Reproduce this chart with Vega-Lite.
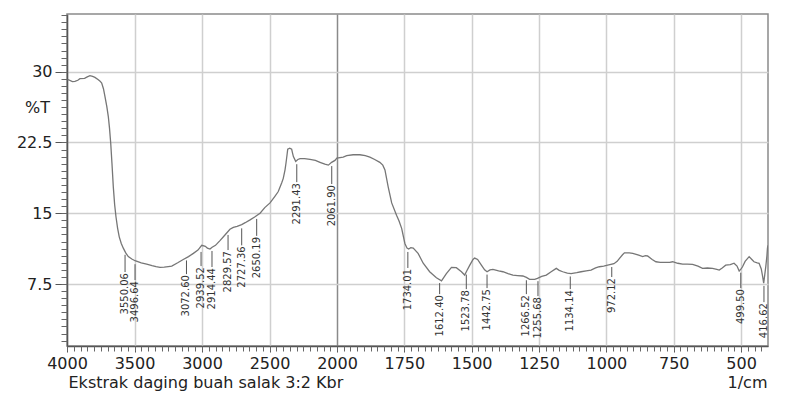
{
  "$schema": "https://vega.github.io/schema/vega-lite/v6.json",
  "width": 701,
  "height": 332,
  "autosize": {"type": "none"},
  "padding": {"left": 67, "top": 14, "right": 41, "bottom": 50},
  "background": "white",
  "config": {
    "view": {"stroke": "#8a8a8a", "strokeWidth": 1.5},
    "axis": {"labelFont": "DejaVu Sans", "titleFont": "DejaVu Sans", "labelColor": "#222", "titleColor": "#222", "titleFontWeight": "normal"},
    "text": {"font": "DejaVu Sans"}
  },
  "datasets": {
    "spectrum": [
      {"wn": 3996, "t": 29.1}, {"wn": 3990, "t": 29.15}, {"wn": 3960, "t": 28.95}, {"wn": 3941, "t": 28.97}, {"wn": 3920, "t": 29.1},
      {"wn": 3904, "t": 29.26}, {"wn": 3870, "t": 29.3}, {"wn": 3850, "t": 29.45}, {"wn": 3830, "t": 29.58}, {"wn": 3810, "t": 29.5},
      {"wn": 3793, "t": 29.4}, {"wn": 3768, "t": 29.15}, {"wn": 3755, "t": 29.0}, {"wn": 3743, "t": 28.8}, {"wn": 3730, "t": 28.2},
      {"wn": 3719, "t": 27.4}, {"wn": 3705, "t": 26.3}, {"wn": 3694, "t": 25.25}, {"wn": 3685, "t": 24.0}, {"wn": 3676, "t": 22.4},
      {"wn": 3667, "t": 20.3}, {"wn": 3657, "t": 17.8}, {"wn": 3647, "t": 15.9}, {"wn": 3637, "t": 14.6}, {"wn": 3625, "t": 13.4},
      {"wn": 3613, "t": 12.5}, {"wn": 3598, "t": 11.8}, {"wn": 3583, "t": 11.3}, {"wn": 3565, "t": 10.8}, {"wn": 3546, "t": 10.4},
      {"wn": 3520, "t": 10.15}, {"wn": 3496, "t": 9.97}, {"wn": 3450, "t": 9.75}, {"wn": 3410, "t": 9.6}, {"wn": 3370, "t": 9.45},
      {"wn": 3340, "t": 9.35}, {"wn": 3311, "t": 9.27}, {"wn": 3280, "t": 9.3}, {"wn": 3250, "t": 9.35}, {"wn": 3224, "t": 9.4},
      {"wn": 3180, "t": 9.75}, {"wn": 3139, "t": 10.1}, {"wn": 3100, "t": 10.4}, {"wn": 3064, "t": 10.75}, {"wn": 3030, "t": 11.1},
      {"wn": 3002, "t": 11.6}, {"wn": 2975, "t": 11.5}, {"wn": 2960, "t": 11.3}, {"wn": 2941, "t": 11.2}, {"wn": 2925, "t": 11.4},
      {"wn": 2900, "t": 11.6}, {"wn": 2867, "t": 12.1}, {"wn": 2830, "t": 12.7}, {"wn": 2793, "t": 13.3}, {"wn": 2768, "t": 13.5},
      {"wn": 2740, "t": 13.6}, {"wn": 2706, "t": 13.8}, {"wn": 2680, "t": 14.0}, {"wn": 2644, "t": 14.3}, {"wn": 2610, "t": 14.6},
      {"wn": 2570, "t": 15.0}, {"wn": 2535, "t": 15.6}, {"wn": 2496, "t": 16.1}, {"wn": 2460, "t": 16.8}, {"wn": 2435, "t": 17.3},
      {"wn": 2410, "t": 18.2}, {"wn": 2398, "t": 18.7}, {"wn": 2385, "t": 19.6}, {"wn": 2378, "t": 20.3}, {"wn": 2370, "t": 21.2},
      {"wn": 2365, "t": 21.8}, {"wn": 2350, "t": 21.9}, {"wn": 2336, "t": 21.8}, {"wn": 2328, "t": 21.3}, {"wn": 2323, "t": 21.0},
      {"wn": 2306, "t": 20.5}, {"wn": 2290, "t": 20.7}, {"wn": 2274, "t": 20.8}, {"wn": 2240, "t": 20.8}, {"wn": 2200, "t": 20.7},
      {"wn": 2160, "t": 20.6}, {"wn": 2126, "t": 20.4}, {"wn": 2090, "t": 20.2}, {"wn": 2064, "t": 20.1}, {"wn": 2040, "t": 20.4},
      {"wn": 2015, "t": 20.6}, {"wn": 2001, "t": 20.84}, {"wn": 1977, "t": 20.95}, {"wn": 1964, "t": 21.1}, {"wn": 1940, "t": 21.2},
      {"wn": 1915, "t": 21.2}, {"wn": 1895, "t": 21.1}, {"wn": 1878, "t": 20.94}, {"wn": 1860, "t": 20.7}, {"wn": 1841, "t": 20.4},
      {"wn": 1830, "t": 20.1}, {"wn": 1822, "t": 19.6}, {"wn": 1810, "t": 17.8}, {"wn": 1797, "t": 16.1}, {"wn": 1779, "t": 14.8},
      {"wn": 1770, "t": 14.2}, {"wn": 1760, "t": 13.4}, {"wn": 1748, "t": 11.8}, {"wn": 1740, "t": 11.3}, {"wn": 1734, "t": 11.2},
      {"wn": 1726, "t": 11.35}, {"wn": 1717, "t": 11.3}, {"wn": 1699, "t": 10.75}, {"wn": 1680, "t": 9.7}, {"wn": 1656, "t": 8.8},
      {"wn": 1631, "t": 8.16}, {"wn": 1612, "t": 7.84}, {"wn": 1594, "t": 8.6}, {"wn": 1575, "t": 9.27}, {"wn": 1557, "t": 9.23},
      {"wn": 1538, "t": 8.8}, {"wn": 1526, "t": 8.45}, {"wn": 1518, "t": 8.9}, {"wn": 1507, "t": 9.5}, {"wn": 1495, "t": 10.1},
      {"wn": 1489, "t": 10.25}, {"wn": 1478, "t": 10.1}, {"wn": 1464, "t": 9.5}, {"wn": 1452, "t": 9.0}, {"wn": 1443, "t": 8.8},
      {"wn": 1432, "t": 9.0}, {"wn": 1421, "t": 9.05}, {"wn": 1400, "t": 8.9}, {"wn": 1384, "t": 8.8}, {"wn": 1365, "t": 8.6},
      {"wn": 1347, "t": 8.45}, {"wn": 1330, "t": 8.4}, {"wn": 1310, "t": 8.35}, {"wn": 1297, "t": 8.2}, {"wn": 1285, "t": 8.0},
      {"wn": 1266, "t": 8.0}, {"wn": 1256, "t": 8.1}, {"wn": 1240, "t": 8.3}, {"wn": 1223, "t": 8.45}, {"wn": 1205, "t": 8.8},
      {"wn": 1186, "t": 9.16}, {"wn": 1175, "t": 8.95}, {"wn": 1162, "t": 8.8}, {"wn": 1145, "t": 8.65}, {"wn": 1131, "t": 8.6},
      {"wn": 1110, "t": 8.7}, {"wn": 1094, "t": 8.8}, {"wn": 1075, "t": 8.9}, {"wn": 1057, "t": 8.98}, {"wn": 1040, "t": 9.2},
      {"wn": 1026, "t": 9.33}, {"wn": 1010, "t": 9.4}, {"wn": 995, "t": 9.5}, {"wn": 972, "t": 9.65}, {"wn": 960, "t": 9.9},
      {"wn": 952, "t": 10.2}, {"wn": 940, "t": 10.6}, {"wn": 933, "t": 10.8}, {"wn": 915, "t": 10.8}, {"wn": 902, "t": 10.75},
      {"wn": 880, "t": 10.55}, {"wn": 865, "t": 10.4}, {"wn": 855, "t": 10.5}, {"wn": 847, "t": 10.47}, {"wn": 830, "t": 10.1},
      {"wn": 816, "t": 9.86}, {"wn": 800, "t": 9.8}, {"wn": 779, "t": 9.8}, {"wn": 765, "t": 9.8}, {"wn": 754, "t": 9.86},
      {"wn": 735, "t": 9.7}, {"wn": 717, "t": 9.6}, {"wn": 700, "t": 9.6}, {"wn": 680, "t": 9.58}, {"wn": 660, "t": 9.4},
      {"wn": 643, "t": 9.16}, {"wn": 625, "t": 9.2}, {"wn": 606, "t": 9.16}, {"wn": 590, "t": 9.05}, {"wn": 581, "t": 8.98},
      {"wn": 570, "t": 9.2}, {"wn": 557, "t": 9.5}, {"wn": 540, "t": 9.55}, {"wn": 526, "t": 9.7}, {"wn": 515, "t": 9.4},
      {"wn": 507, "t": 8.87}, {"wn": 500, "t": 9.1}, {"wn": 495, "t": 9.3}, {"wn": 485, "t": 9.9}, {"wn": 470, "t": 10.4},
      {"wn": 460, "t": 10.1}, {"wn": 452, "t": 9.86}, {"wn": 440, "t": 9.75}, {"wn": 433, "t": 9.7}, {"wn": 425, "t": 9.1},
      {"wn": 420, "t": 8.3}, {"wn": 416, "t": 7.6}, {"wn": 412, "t": 8.5}, {"wn": 408, "t": 9.4}, {"wn": 404, "t": 10.5},
      {"wn": 402, "t": 11.3}, {"wn": 400, "t": 11.6}
    ],
    "peaks": [
      {"label": "3550.06", "lx": 3570, "y1": 10.6, "y2": 8.77},
      {"label": "3496.64", "lx": 3496, "y1": 9.6, "y2": 7.92},
      {"label": "3072.60", "lx": 3115, "y1": 10.0, "y2": 8.55},
      {"label": "2939.52", "lx": 3007, "y1": 10.9, "y2": 9.4},
      {"label": "2914.44", "lx": 2926, "y1": 11.0, "y2": 9.3},
      {"label": "2829.57", "lx": 2807, "y1": 12.7, "y2": 11.1},
      {"label": "2727.36", "lx": 2706, "y1": 13.4, "y2": 11.6},
      {"label": "2650.19", "lx": 2595, "y1": 14.4, "y2": 12.6},
      {"label": "2291.43", "lx": 2298, "y1": 20.2, "y2": 18.3},
      {"label": "2061.90", "lx": 2039, "y1": 20.0, "y2": 18.1},
      {"label": "1734.01", "lx": 1737, "y1": 10.9, "y2": 9.2},
      {"label": "1612.40", "lx": 1619, "y1": 7.6, "y2": 6.43},
      {"label": "1523.78", "lx": 1520, "y1": 8.5, "y2": 6.96},
      {"label": "1442.75", "lx": 1443, "y1": 8.5, "y2": 7.07},
      {"label": "1266.52", "lx": 1297, "y1": 7.9, "y2": 6.43},
      {"label": "1255.68", "lx": 1254, "y1": 7.8, "y2": 6.22},
      {"label": "1134.14", "lx": 1134, "y1": 8.3, "y2": 6.96},
      {"label": "972.12", "lx": 980, "y1": 9.3, "y2": 8.24},
      {"label": "499.50", "lx": 501, "y1": 8.7, "y2": 7.07},
      {"label": "416.62", "lx": 415, "y1": 7.3, "y2": 5.58}
    ]
  },
  "layer": [
    {
      "data": {"name": "spectrum"},
      "mark": {"type": "line", "color": "#767676", "strokeWidth": 1.3, "clip": true},
      "encoding": {
        "x": {
          "field": "wn", "type": "quantitative",
          "scale": {"domain": [4000, 2000, 400], "range": [0, 270, 701], "nice": false, "zero": false},
          "axis": {
            "orient": "bottom",
            "values": [4000, 3500, 3000, 2500, 2000, 1750, 1500, 1250, 1000, 750, 500],
            "format": "d",
            "labelFontSize": 16, "labelPadding": 3, "labelFlush": false,
            "tickSize": 6, "tickColor": "#555",
            "domainColor": "#555", "domainWidth": 1.5,
            "grid": true, "gridWidth": 1.5,
            "gridColor": {"condition": {"test": "datum.value === 2000", "value": "#8a8a8a"}, "value": "#cfcfcf"},
            "title": "Ekstrak daging buah salak 3:2 Kbr",
            "titleFontSize": 16, "titleX": 1, "titleY": 36, "titleAlign": "left", "titleBaseline": "middle"
          }
        },
        "y": {
          "field": "t", "type": "quantitative",
          "scale": {"domain": [0.93, 36.12], "nice": false, "zero": false},
          "axis": {
            "orient": "left",
            "values": [7.5, 15, 22.5, 30],
            "labelExpr": "'' + datum.value",
            "labelFontSize": 16, "labelPadding": 3,
            "tickSize": 12, "tickColor": "#555",
            "domainColor": "#555", "domainWidth": 1.5,
            "grid": true, "gridWidth": 1.5, "gridColor": "#cfcfcf",
            "title": "%T", "titleAngle": 0, "titleFontSize": 16,
            "titleX": -30, "titleY": 93, "titleAlign": "center", "titleBaseline": "middle"
          }
        }
      }
    },
    {
      "data": {"name": "peaks"},
      "mark": {"type": "rule", "color": "#555", "strokeWidth": 1},
      "encoding": {
        "x": {
          "field": "lx", "type": "quantitative",
          "axis": {
            "orient": "bottom",
            "values": [4000, 3950, 3900, 3850, 3800, 3750, 3700, 3650, 3600, 3550, 3500, 3450, 3400, 3350, 3300, 3250, 3200, 3150, 3100, 3050, 3000, 2950, 2900, 2850, 2800, 2750, 2700, 2650, 2600, 2550, 2500, 2450, 2400, 2350, 2300, 2250, 2200, 2150, 2100, 2050, 2000, 1975, 1950, 1925, 1900, 1875, 1850, 1825, 1800, 1775, 1750, 1725, 1700, 1675, 1650, 1625, 1600, 1575, 1550, 1525, 1500, 1475, 1450, 1425, 1400, 1375, 1350, 1325, 1300, 1275, 1250, 1225, 1200, 1175, 1150, 1125, 1100, 1075, 1050, 1025, 1000, 975, 950, 925, 900, 875, 850, 825, 800, 775, 750, 725, 700, 675, 650, 625, 600, 575, 550, 525, 500, 475, 450, 425],
            "labels": false, "grid": false, "domain": false,
            "tickSize": 5, "tickColor": "#666",
            "title": "1/cm", "titleFontSize": 16, "titleX": 700, "titleY": 36, "titleAlign": "right", "titleBaseline": "middle"
          }
        },
        "y": {
          "field": "y1", "type": "quantitative",
          "axis": {
            "orient": "left",
            "values": [1.5, 2.25, 3, 3.75, 4.5, 5.25, 6, 6.75, 7.5, 8.25, 9, 9.75, 10.5, 11.25, 12, 12.75, 13.5, 14.25, 15, 15.75, 16.5, 17.25, 18, 18.75, 19.5, 20.25, 21, 21.75, 22.5, 23.25, 24, 24.75, 25.5, 26.25, 27, 27.75, 28.5, 29.25, 30, 30.75, 31.5, 32.25, 33, 33.75, 34.5, 35.25, 36],
            "labels": false, "grid": false, "domain": false,
            "tickSize": 6, "tickColor": "#666", "title": null
          }
        },
        "y2": {"field": "y2"}
      }
    },
    {
      "data": {"name": "peaks"},
      "mark": {"type": "text", "angle": 270, "align": "right", "baseline": "middle", "fontSize": 10, "color": "#333", "dx": -1},
      "encoding": {
        "x": {"field": "lx", "type": "quantitative", "axis": null},
        "y": {"field": "y2", "type": "quantitative", "axis": null},
        "text": {"field": "label"}
      }
    }
  ],
  "resolve": {"axis": {"x": "independent", "y": "independent"}}
}
